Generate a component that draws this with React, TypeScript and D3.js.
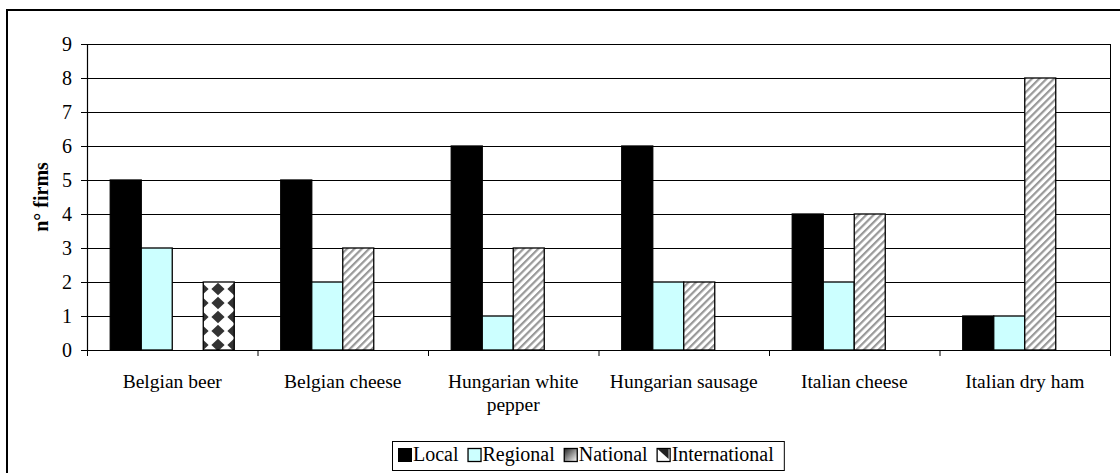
import React, { useEffect, useRef } from "react";
import * as d3 from "d3";

// Products studied and number of firms by market reach
const categories = [
  "Belgian beer",
  "Belgian cheese",
  "Hungarian white pepper",
  "Hungarian sausage",
  "Italian cheese",
  "Italian dry ham",
];
const seriesNames = ["Local", "Regional", "National", "International"];
const localValues = [5, 5, 6, 6, 4, 1];
const regionalValues = [3, 2, 1, 2, 2, 1];
const nationalValues = [0, 3, 3, 2, 4, 8];
const internationalValues = [2, 0, 0, 0, 0, 0];
const yTicks = [0, 1, 2, 3, 4, 5, 6, 7, 8, 9];
const yAxisTitle = "n° firms";

const W = 1120;
const H = 473;
const FONT = "'Liberation Serif', 'Times New Roman', serif";

export default function App() {
  const ref = useRef<SVGSVGElement>(null);

  useEffect(() => {
    document.body.style.margin = "0";
    const svg = d3.select(ref.current);
    svg.selectAll("*").remove();

    const margin = { left: 87, right: 10, top: 44, bottom: 123 };
    const plotW = 1110 - margin.left;
    const plotH = 350 - margin.top;

    const defs = svg.append("defs");
    // diagonal hatch for National
    const hs = 5.2;
    const hatch = defs
      .append("pattern")
      .attr("id", "hatch")
      .attr("patternUnits", "userSpaceOnUse")
      .attr("width", hs)
      .attr("height", hs)
      .attr("patternTransform", "rotate(45)");
    hatch.append("rect").attr("width", hs).attr("height", hs).attr("fill", "#fff");
    hatch
      .append("rect")
      .attr("x", 0)
      .attr("width", 2.2)
      .attr("height", hs)
      .attr("fill", "#999");

    // diamond checker for International
    const dia = defs
      .append("pattern")
      .attr("id", "diamonds")
      .attr("patternUnits", "userSpaceOnUse")
      .attr("x", 203)
      .attr("y", 350)
      .attr("width", 16)
      .attr("height", 14);
    dia.append("rect").attr("width", 16).attr("height", 14).attr("fill", "#fff");
    dia
      .append("path")
      .attr("d", "M8,0.8 L14.6,7 L8,13.2 L1.4,7 Z")
      .attr("fill", "#333");

    const grad = defs
      .append("linearGradient")
      .attr("id", "natIcon")
      .attr("x1", 0)
      .attr("y1", 0)
      .attr("x2", 1)
      .attr("y2", 1);
    grad.append("stop").attr("offset", "0%").attr("stop-color", "#222");
    grad.append("stop").attr("offset", "100%").attr("stop-color", "#fff");

    // outer frame (top and left edges)
    svg
      .append("path")
      .attr("d", `M7,${H} L7,10 L${W},10`)
      .attr("fill", "none")
      .attr("stroke", "#000")
      .attr("stroke-width", 2);

    const g = svg.append("g").attr("transform", `translate(${margin.left},${margin.top})`);

    const x0 = d3.scaleBand<string>().domain(categories).range([0, plotW]).padding(0);
    const x1 = d3
      .scaleBand<string>()
      .domain(seriesNames)
      .range([0, x0.bandwidth()])
      .paddingInner(0)
      .paddingOuter(0.75);
    const y = d3.scaleLinear().domain([0, 9]).range([plotH, 0]);

    // gridlines
    g.append("g")
      .selectAll("line")
      .data(yTicks.filter((t) => t > 0))
      .join("line")
      .attr("x1", 0)
      .attr("x2", plotW)
      .attr("y1", (d) => Math.round(y(d)) + 0.5)
      .attr("y2", (d) => Math.round(y(d)) + 0.5)
      .attr("stroke", "#000")
      .attr("stroke-width", 1);

    // right edge of plot area
    g.append("line")
      .attr("x1", plotW + 0.5)
      .attr("x2", plotW + 0.5)
      .attr("y1", 0)
      .attr("y2", plotH)
      .attr("stroke", "#000");

    const seriesValues = [localValues, regionalValues, nationalValues, internationalValues];
    const fills = ["#000", "#ccffff", "url(#hatch)", "url(#diamonds)"];

    const barData: { cat: string; s: string; v: number; fill: string }[] = [];
    categories.forEach((c, i) => {
      seriesNames.forEach((s, j) => {
        const v = seriesValues[j][i];
        if (v > 0) barData.push({ cat: c, s, v, fill: fills[j] });
      });
    });

    g.append("g")
      .selectAll("rect")
      .data(barData)
      .join("rect")
      .attr("x", (d) => (x0(d.cat) as number) + (x1(d.s) as number))
      .attr("y", (d) => y(d.v))
      .attr("width", x1.bandwidth())
      .attr("height", (d) => plotH - y(d.v))
      .attr("fill", (d) => d.fill)
      .attr("stroke", "#000")
      .attr("stroke-width", 1.3);

    // y axis
    const yAxis = g
      .append("g")
      .call(d3.axisLeft(y).tickValues(yTicks).tickSize(6).tickPadding(9).tickFormat(d3.format("d")));
    yAxis.select(".domain").attr("stroke", "#000").attr("stroke-width", 1.2);
    yAxis
      .selectAll("text")
      .attr("font-family", FONT)
      .attr("font-size", 20)
      .attr("fill", "#000");

    // x axis
    const xAxisG = g.append("g").attr("transform", `translate(0,${plotH})`);
    xAxisG
      .append("line")
      .attr("x1", -6)
      .attr("x2", plotW)
      .attr("y1", 0.5)
      .attr("y2", 0.5)
      .attr("stroke", "#000")
      .attr("stroke-width", 1.2);
    const boundaries = categories.map((c) => x0(c) as number).concat([plotW]);
    xAxisG
      .selectAll("line.tick")
      .data(boundaries)
      .join("line")
      .attr("class", "tick")
      .attr("x1", (d) => d + 0.5)
      .attr("x2", (d) => d + 0.5)
      .attr("y1", 0)
      .attr("y2", 6)
      .attr("stroke", "#000");

    const labels = xAxisG
      .selectAll("text.cat")
      .data(categories)
      .join("text")
      .attr("class", "cat")
      .attr("font-family", FONT)
      .attr("font-size", 19.5)
      .attr("text-anchor", "middle")
      .attr("fill", "#000")
      .attr("x", (d) => (x0(d) as number) + x0.bandwidth() / 2)
      .attr("y", 38);

    // wrap category names into the band width
    labels.each(function (d) {
      const t = d3.select(this);
      const words = (d as string).split(" ");
      const cx = +t.attr("x");
      let line: string[] = [];
      let tspan = t.append("tspan").attr("x", cx).attr("dy", 0);
      words.forEach((w) => {
        line.push(w);
        tspan.text(line.join(" "));
        if ((tspan.node() as SVGTSpanElement).getComputedTextLength() > 165 && line.length > 1) {
          line.pop();
          tspan.text(line.join(" "));
          line = [w];
          tspan = t.append("tspan").attr("x", cx).attr("dy", 23).text(w);
        }
      });
    });

    // y axis title
    svg
      .append("text")
      .attr("transform", `translate(48,${margin.top + plotH / 2}) rotate(-90)`)
      .attr("text-anchor", "middle")
      .attr("font-family", FONT)
      .attr("font-size", 20)
      .attr("font-weight", "bold")
      .attr("fill", "#000")
      .text(yAxisTitle);

    // legend
    const legend = svg.append("g");
    const box = legend
      .append("rect")
      .attr("fill", "#fff")
      .attr("stroke", "#000")
      .attr("stroke-width", 1);
    let cx = 398;
    const sq = 13;
    const ly = 448;
    seriesNames.forEach((name, i) => {
      const item = legend.append("g");
      if (i === 0) {
        item.append("rect").attr("x", cx + 0.5).attr("y", ly + 0.5).attr("width", sq).attr("height", sq).attr("fill", "#000").attr("stroke", "#000");
      } else if (i === 1) {
        item.append("rect").attr("x", cx + 0.5).attr("y", ly + 0.5).attr("width", sq).attr("height", sq).attr("fill", "#ccffff").attr("stroke", "#000").attr("stroke-width", 1.3);
      } else if (i === 2) {
        item.append("rect").attr("x", cx + 0.5).attr("y", ly + 0.5).attr("width", sq).attr("height", sq).attr("fill", "url(#natIcon)").attr("stroke", "#000").attr("stroke-width", 1.3);
      } else {
        item.append("rect").attr("x", cx + 0.5).attr("y", ly + 0.5).attr("width", sq).attr("height", sq).attr("fill", "#fff").attr("stroke", "#000").attr("stroke-width", 1.3);
        item
          .append("path")
          .attr("d", `M${cx + 1},${ly + 1} L${cx + sq - 1},${ly + 1} L${cx + sq - 1},${ly + sq - 2} Z`)
          .attr("fill", "#222");
      }
      const txt = item
        .append("text")
        .attr("x", cx + sq + 2)
        .attr("y", ly + sq)
        .attr("font-family", FONT)
        .attr("font-size", 20)
        .attr("fill", "#000")
        .text(name);
      const tw = (txt.node() as SVGTextElement).getComputedTextLength();
      cx += sq + 2 + tw + 9;
    });
    box.attr("x", 392.5).attr("y", 441.5).attr("width", cx - 392 + 1).attr("height", 29);
  }, []);

  return (
    <svg
      ref={ref}
      width={W}
      height={H}
      style={{ position: "absolute", left: 0, top: 0, background: "#fff" }}
    />
  );
}
